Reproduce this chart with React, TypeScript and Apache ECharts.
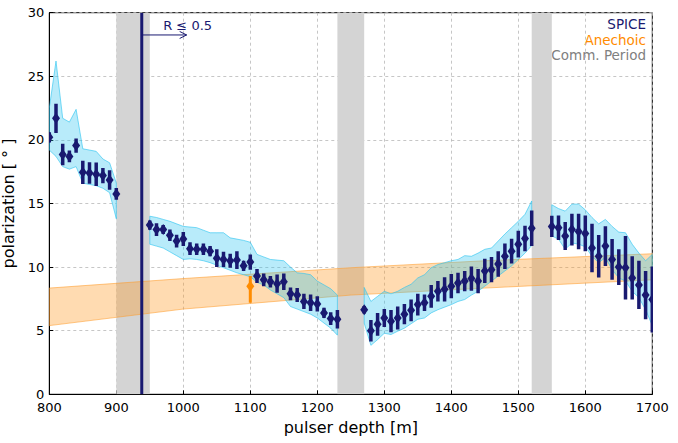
import React, { useEffect, useRef } from "react";
import * as echarts from "echarts";

// SPICE measurements
const spiceDepth = [
  800, 810, 820, 830, 840, 850, 860, 870, 880, 890, 900,
  950, 960, 970, 980, 990, 1000, 1010, 1020, 1030, 1040, 1050, 1060, 1070, 1080, 1090, 1100,
  1110, 1120, 1130, 1140, 1150, 1160, 1170, 1180, 1190, 1200, 1210, 1220, 1230,
  1270, 1280, 1290, 1300, 1310, 1320, 1330, 1340, 1350, 1360, 1370, 1380, 1390, 1400, 1410,
  1420, 1430, 1440, 1450, 1460, 1470, 1480, 1490, 1500, 1510, 1520,
  1550, 1560, 1570, 1580, 1590, 1600, 1610, 1620, 1630, 1640, 1650, 1660, 1670, 1680, 1690, 1700,
];
const spiceValue = [
  20.2, 21.7, 18.85, 18.7, 19.55, 17.45, 17.4, 17.3, 17.2, 16.85, 15.75,
  13.3, 12.95, 12.95, 12.5, 12.05, 12.2, 11.45, 11.4, 11.4, 11.25, 10.7, 10.6, 10.5, 10.55, 10.1, 10.4,
  9.3, 9.0, 8.85, 8.7, 8.85, 7.9, 7.8, 7.3, 7.2, 7.1, 6.4, 5.95, 5.9,
  6.65, 5.0, 5.5, 6.0, 5.75, 6.0, 6.3, 6.6, 7.05, 7.2, 7.7, 8.1, 8.25, 8.5, 8.75,
  8.9, 9.1, 8.9, 9.7, 9.8, 10.25, 10.85, 11.25, 11.8, 12.25, 13.05,
  13.2, 13.1, 12.45, 12.95, 12.8, 12.65, 11.5, 10.85, 11.65, 10.6, 10.0, 9.95, 9.15, 8.6, 7.8, 7.45,
];
const spiceErr = [
  0.4, 1.15, 0.85, 0.46, 0.56, 0.92, 0.85, 0.92, 0.6, 0.76, 0.46,
  0.37, 0.5, 0.35, 0.45, 0.5, 0.55, 0.5, 0.45, 0.45, 0.4, 0.7, 0.6, 0.55, 0.7, 0.4, 0.6,
  0.55, 0.5, 0.45, 0.72, 0.65, 0.5, 0.55, 0.6, 0.65, 0.6, 0.4, 0.5, 0.72,
  0.3, 0.85, 0.9, 0.7, 0.88, 0.9, 0.8, 0.85, 0.85, 0.65, 0.9, 0.8, 0.95, 0.95, 0.8,
  0.8, 0.95, 0.95, 0.95, 1.0, 1.0, 1.0, 0.97, 1.05, 1.0, 1.4,
  0.83, 0.96, 1.1, 1.25, 1.4, 1.4, 1.9, 1.67, 1.57, 1.6, 1.4, 2.5, 1.7, 1.9, 1.9, 2.6,
];
const spiceBandUpper = [
  22.5, 26.2, 21.7, 21.4, 22.4, 19.3, 19.2, 19.1, 18.5, 18.2, 16.6,
  14.0, 13.9, 13.75, 13.6, 13.4, 13.2, 13.15, 13.1, 12.9, 12.7, 12.7, 12.7, 12.3, 12.2, 12.1, 11.95,
  11.0, 10.8, 10.6, 10.55, 10.5, 10.0, 9.55, 9.5, 9.4, 8.9, 8.6, 8.3, 7.8,
  8.4, 7.3, 7.7, 8.1, 7.9, 8.1, 8.4, 8.65, 9.15, 9.4, 9.95, 10.2, 10.35, 10.5, 10.6,
  10.9, 10.85, 11.1, 11.4, 11.5, 12.05, 12.6, 13.1, 13.6, 14.15, 15.2,
  14.9, 14.6, 14.4, 14.95, 14.95, 14.5, 13.9, 13.4, 13.75, 13.2, 12.75, 12.7, 11.8, 11.1, 10.5, 11.0,
];
const spiceBandLower = [
  19.2, 18.7, 17.9, 17.7, 17.9, 16.6, 16.5, 16.4, 16.2, 15.85, 13.8,
  11.8, 11.65, 11.5, 11.2, 10.9, 10.6, 10.65, 10.6, 10.5, 10.35, 10.15, 9.95, 9.75, 9.55, 9.4, 9.25,
  8.8, 8.6, 8.2, 7.9, 7.6, 6.9, 6.7, 6.5, 6.3, 6.0, 5.6, 5.2, 4.65,
  5.6, 3.85, 4.3, 4.8, 4.7, 4.96, 5.2, 5.55, 5.9, 6.0, 6.4, 6.65, 6.85, 7.05, 7.3,
  7.45, 7.8, 8.1, 8.5, 8.9, 9.3, 9.7, 10.1, 10.6, 11.1, 11.7,
  12.45, 12.2, 11.4, 11.9, 11.8, 11.6, 10.85, 10.35, 10.75, 9.8, 9.15, 8.9, 8.1, 7.6, 6.65, 5.4,
];

// Anechoic expectation band and measurement
const anechoicDepth = [800, 1000, 1250, 1450, 1700];
const anechoicUpper = [8.35, 9.1, 9.95, 10.5, 11.05];
const anechoicLower = [5.4, 6.7, 7.8, 8.35, 9.0];
const anechoicPointDepth = [1100];
const anechoicPointValue = [8.5];
const anechoicPointLow = [7.2];
const anechoicPointHigh = [9.3];

// Communication periods
const commStart = [900, 1230, 1520];
const commEnd = [950, 1270, 1550];

// R <= 0.5 annotation
const cutDepth = 938;
const arrowEndDepth = 1005;
const arrowY = 28.25;
const annotationDepth = 970;
const annotationY = 29.0;
const annotationText = "R \u2264 0.5";

// Axes
const xMin = 800;
const xMax = 1700;
const xStep = 100;
const yMin = 0;
const yMax = 30;
const yStep = 5;

const NAVY = "#191970";
const ORANGE = "#ff8c00";
const GRAY = "#808080";
const FONT = "DejaVu Sans";

function segmentsOf(depths: number[]): number[][] {
  const segs: number[][] = [];
  let cur: number[] = [];
  depths.forEach((d, i) => {
    if (i > 0 && d - depths[i - 1] > 15) {
      segs.push(cur);
      cur = [];
    }
    cur.push(i);
  });
  if (cur.length) segs.push(cur);
  return segs;
}

function errorBarSeries(name: string, data: number[][], color: string, width: number) {
  return {
    name,
    type: "custom",
    z: 5,
    clip: true,
    encode: { x: 0, y: [1, 2] },
    data,
    renderItem: (params: any, api: any) => {
      const p0 = api.coord([api.value(0), api.value(1)]);
      const p1 = api.coord([api.value(0), api.value(2)]);
      return {
        type: "line",
        shape: { x1: p0[0], y1: p0[1], x2: p1[0], y2: p1[1] },
        style: { stroke: color, lineWidth: width },
      };
    },
  };
}

function diamondSeries(name: string, data: number[][], color: string) {
  return {
    name,
    type: "custom",
    z: 6,
    clip: true,
    encode: { x: 0, y: 1 },
    data,
    renderItem: (params: any, api: any) => {
      const c = api.coord([api.value(0), api.value(1)]);
      const hw = 4;
      const hh = 5.5;
      return {
        type: "polygon",
        shape: {
          points: [
            [c[0], c[1] - hh],
            [c[0] + hw, c[1]],
            [c[0], c[1] + hh],
            [c[0] - hw, c[1]],
          ],
        },
        style: { fill: color },
      };
    },
  };
}

export default function App() {
  const ref = useRef<HTMLDivElement>(null);

  useEffect(() => {
    if (!ref.current) return;
    const chart = echarts.init(ref.current, undefined, { renderer: "svg" });
    const segments = segmentsOf(spiceDepth);

    const option: any = {
      animation: false,
      backgroundColor: "#ffffff",
      grid: {
        left: 49.3,
        right: 25.7,
        top: 12.7,
        bottom: 48.7,
        containLabel: false,
        outerBoundsMode: "none",
        show: true,
        borderColor: "#000",
        borderWidth: 1,
        backgroundColor: "transparent",
      },
      xAxis: {
        type: "value",
        min: xMin,
        max: xMax,
        interval: xStep,
        name: "pulser depth [m]",
        nameLocation: "middle",
        nameGap: 24,
        nameTextStyle: { fontSize: 16, color: "#000", fontFamily: FONT },
        axisLine: { show: true, lineStyle: { color: "#000", width: 1 } },
        axisTick: { show: true, inside: true, length: 4, lineStyle: { color: "#000" } },
        axisLabel: {
          fontSize: 13,
          color: "#000",
          fontFamily: FONT,
          margin: 7,
          formatter: (v: number) => String(v),
        },
        splitLine: { show: true, lineStyle: { color: "#b8b8b8", type: [3, 3], width: 0.8 } },
      },
      yAxis: {
        type: "value",
        min: yMin,
        max: yMax,
        interval: yStep,
        name: "polarization [ \u00b0 ]",
        nameLocation: "middle",
        nameGap: 26,
        nameTextStyle: { fontSize: 16, color: "#000", fontFamily: FONT },
        axisLine: { show: true, lineStyle: { color: "#000", width: 1 } },
        axisTick: { show: true, inside: true, length: 4, lineStyle: { color: "#000" } },
        axisLabel: {
          fontSize: 13,
          color: "#000",
          fontFamily: FONT,
          margin: 5,
          formatter: (v: number) => String(v),
        },
        splitLine: { show: true, lineStyle: { color: "#b8b8b8", type: [3, 3], width: 0.8 } },
      },
      series: [
        {
          name: "Comm. Period",
          type: "custom",
          z: 1,
          clip: true,
          encode: { x: [0, 1] },
          data: commStart.map((s, i) => [s, commEnd[i]]),
          renderItem: (params: any, api: any) => {
            const p0 = api.coord([api.value(0), yMax]);
            const p1 = api.coord([api.value(1), yMin]);
            return {
              type: "rect",
              shape: { x: p0[0], y: p0[1], width: p1[0] - p0[0], height: p1[1] - p0[1] },
              style: { fill: "#d4d4d4" },
            };
          },
        },
        {
          name: "Anechoic band",
          type: "custom",
          z: 2,
          clip: true,
          data: [[anechoicDepth[0], anechoicLower[0]]],
          renderItem: (params: any, api: any) => {
            const pts: number[][] = [];
            anechoicDepth.forEach((d, i) => pts.push(api.coord([d, anechoicUpper[i]])));
            for (let i = anechoicDepth.length - 1; i >= 0; i--) {
              pts.push(api.coord([anechoicDepth[i], anechoicLower[i]]));
            }
            return {
              type: "polygon",
              shape: { points: pts },
              style: { fill: "rgba(255,155,40,0.36)", stroke: "rgba(255,155,40,0.55)", lineWidth: 1 },
            };
          },
        },
        {
          name: "SPICE band",
          type: "custom",
          z: 3,
          clip: true,
          data: segments.map((seg) => [spiceDepth[seg[0]], spiceBandLower[seg[0]]]),
          renderItem: (params: any, api: any) => {
            const seg = segments[params.dataIndex];
            const pts: number[][] = [];
            seg.forEach((i) => pts.push(api.coord([spiceDepth[i], spiceBandUpper[i]])));
            for (let k = seg.length - 1; k >= 0; k--) {
              const i = seg[k];
              pts.push(api.coord([spiceDepth[i], spiceBandLower[i]]));
            }
            return {
              type: "polygon",
              shape: { points: pts },
              style: { fill: "rgba(40,195,240,0.33)", stroke: "rgba(40,195,240,0.6)", lineWidth: 1 },
            };
          },
        },
        {
          name: "cut",
          type: "custom",
          z: 4,
          clip: true,
          data: [[cutDepth, yMin]],
          renderItem: (params: any, api: any) => {
            const p0 = api.coord([cutDepth, yMin]);
            const p1 = api.coord([cutDepth, yMax]);
            const a0 = api.coord([cutDepth, arrowY]);
            const a1 = api.coord([arrowEndDepth, arrowY]);
            const t = api.coord([annotationDepth, annotationY]);
            return {
              type: "group",
              children: [
                {
                  type: "line",
                  shape: { x1: p0[0], y1: p0[1], x2: p1[0], y2: p1[1] },
                  style: { stroke: NAVY, lineWidth: 3 },
                },
                {
                  type: "line",
                  shape: { x1: a0[0], y1: a0[1], x2: a1[0], y2: a1[1] },
                  style: { stroke: NAVY, lineWidth: 1 },
                },
                {
                  type: "polyline",
                  shape: { points: [[a1[0] - 7, a1[1] - 3.5], [a1[0], a1[1]], [a1[0] - 7, a1[1] + 3.5]] },
                  style: { stroke: NAVY, lineWidth: 1, fill: "none" },
                },
                {
                  type: "text",
                  x: t[0],
                  y: t[1],
                  style: {
                    text: annotationText,
                    fill: NAVY,
                    fontSize: 13,
                    fontFamily: FONT,
                    align: "left",
                    verticalAlign: "middle",
                  },
                },
              ],
            };
          },
        },
        errorBarSeries(
          "SPICE err",
          spiceDepth.map((d, i) => [d, spiceValue[i] - spiceErr[i], spiceValue[i] + spiceErr[i]]),
          NAVY,
          3.5
        ),
        errorBarSeries(
          "Anechoic err",
          anechoicPointDepth.map((d, i) => [d, anechoicPointLow[i], anechoicPointHigh[i]]),
          ORANGE,
          3
        ),
        diamondSeries("SPICE", spiceDepth.map((d, i) => [d, spiceValue[i]]), NAVY),
        diamondSeries("Anechoic", anechoicPointDepth.map((d, i) => [d, anechoicPointValue[i]]), ORANGE),
      ],
      graphic: [
        {
          type: "text",
          right: 32,
          top: 17,
          style: { text: "SPICE", fill: NAVY, fontSize: 13.5, fontFamily: FONT, align: "right" },
        },
        {
          type: "text",
          right: 32,
          top: 33,
          style: { text: "Anechoic", fill: ORANGE, fontSize: 13.5, fontFamily: FONT, align: "right" },
        },
        {
          type: "text",
          right: 32,
          top: 48,
          style: { text: "Comm. Period", fill: GRAY, fontSize: 13.5, fontFamily: FONT, align: "right" },
        },
      ],
    };

    chart.setOption(option);
    return () => chart.dispose();
  }, []);

  return (
    <div
      ref={ref}
      style={{ position: "fixed", left: 0, top: 0, width: 678, height: 443, background: "#fff" }}
    />
  );
}
